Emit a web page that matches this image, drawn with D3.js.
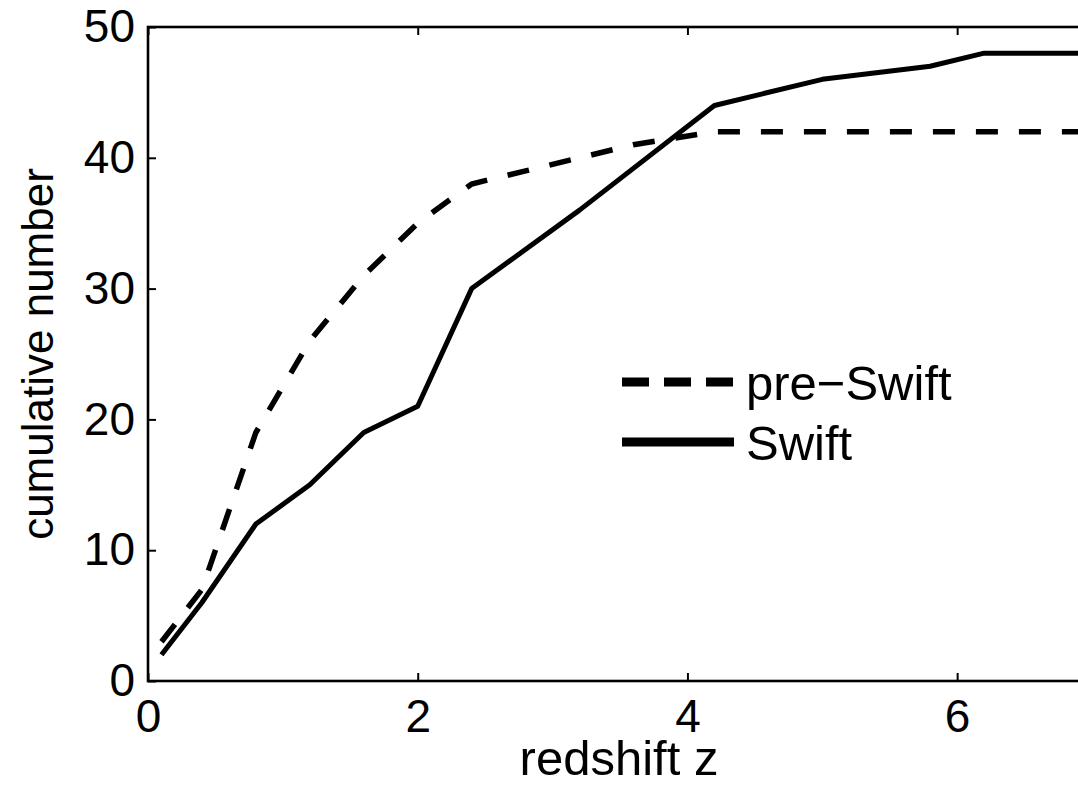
<!DOCTYPE html>
<html>
<head>
<meta charset="utf-8">
<script src="https://cdn.jsdelivr.net/npm/d3@7"></script>
<style>
  body { margin: 0; background: #fff; }
  text { font-family: "Liberation Sans", Arial, Helvetica, sans-serif; fill: #000; }
</style>
</head>
<body>
<div id="canvas"></div>
<script>
// redshift bins and cumulative counts
const preSwiftZ = [0.1, 0.4, 0.8, 1.2, 1.6, 2.0, 2.4, 2.8, 3.2, 3.6, 4.2, 7.0];
const preSwiftN = [3, 7, 19, 26, 31, 35, 38, 39, 40, 41, 42, 42];

const swiftZ = [0.1, 0.4, 0.8, 1.2, 1.6, 2.0, 2.4, 3.2, 4.2, 5.0, 5.8, 6.2, 7.0];
const swiftN = [2, 6, 12, 15, 19, 21, 30, 36, 44, 46, 47, 48, 48];

const xTicks = [0, 2, 4, 6];
const yTicks = [0, 10, 20, 30, 40, 50];
const legendLabels = ["pre\u2212Swift", "Swift"];

const width = 1078;
const height = 785;
const plotLeft = 148, plotRight = 1092, plotTop = 27, plotBottom = 681;

const xScale = d3.scaleLinear([0, 7], [plotLeft, plotRight]);
const yScale = d3.scaleLinear([0, 50], [plotBottom, plotTop]);

const svg = d3
  .select("#canvas")
  .append("svg")
  .attr("width", width)
  .attr("height", height)
  .attr("viewBox", [0, 0, width, height]);

// box
svg
  .append("rect")
  .attr("x", plotLeft)
  .attr("y", plotTop)
  .attr("width", plotRight - plotLeft)
  .attr("height", plotBottom - plotTop)
  .attr("fill", "none")
  .attr("stroke", "#000")
  .attr("stroke-width", 2.6);

const fontSize = 46;

const styleAxis = (g) => {
  g.select(".domain").remove();
  g.selectAll(".tick line").attr("stroke", "#000").attr("stroke-width", 2);
  g.selectAll(".tick text")
    .attr("font-size", fontSize)
    .attr("font-family", '"Liberation Sans", Arial, sans-serif')
    .attr("fill", "#000");
};

svg
  .append("g")
  .attr("transform", `translate(0,${plotBottom})`)
  .call(d3.axisBottom(xScale).tickValues(xTicks).tickSize(-8).tickPadding(18).tickFormat(d3.format("d")))
  .call(styleAxis);

svg
  .append("g")
  .attr("transform", `translate(0,${plotTop})`)
  .call(d3.axisTop(xScale).tickValues(xTicks).tickSize(-8).tickFormat(""))
  .call(styleAxis);

svg
  .append("g")
  .attr("transform", `translate(${plotLeft},0)`)
  .call(d3.axisLeft(yScale).tickValues(yTicks).tickSize(-8).tickPadding(13).tickFormat(d3.format("d")))
  .call(styleAxis);

svg
  .append("g")
  .attr("transform", `translate(${plotRight},0)`)
  .call(d3.axisRight(yScale).tickValues(yTicks).tickSize(-8).tickFormat(""))
  .call(styleAxis);

// axis labels
svg
  .append("text")
  .attr("x", 619)
  .attr("y", 775)
  .attr("text-anchor", "middle")
  .attr("font-size", 49)
  .text("redshift z");

svg
  .append("text")
  .attr("transform", `translate(53,${(plotTop + plotBottom) / 2}) rotate(-90)`)
  .attr("text-anchor", "middle")
  .attr("font-size", 44)
  .text("cumulative number");

// data lines
const line = d3
  .line()
  .x((d) => xScale(d[0]))
  .y((d) => yScale(d[1]));

svg
  .append("path")
  .attr("fill", "none")
  .attr("stroke", "#000")
  .attr("stroke-width", 5.5)
  .attr("stroke-dasharray", "22,21")
  .attr("d", line(d3.zip(preSwiftZ, preSwiftN)));

svg
  .append("path")
  .attr("fill", "none")
  .attr("stroke", "#000")
  .attr("stroke-width", 5)
  .attr("stroke-linejoin", "round")
  .attr("d", line(d3.zip(swiftZ, swiftN)));

// legend
const legend = svg.append("g");
const legendY = [382, 442];
const legendDash = ["27,15", null];

legendLabels.forEach((label, i) => {
  legend
    .append("line")
    .attr("x1", 622)
    .attr("x2", 734)
    .attr("y1", legendY[i])
    .attr("y2", legendY[i])
    .attr("stroke", "#000")
    .attr("stroke-width", 9)
    .attr("stroke-dasharray", legendDash[i]);
  legend
    .append("text")
    .attr("x", 746)
    .attr("y", legendY[i])
    .attr("dy", "0.36em")
    .attr("font-size", 49)
    .text(label);
});
</script>
</body>
</html>
